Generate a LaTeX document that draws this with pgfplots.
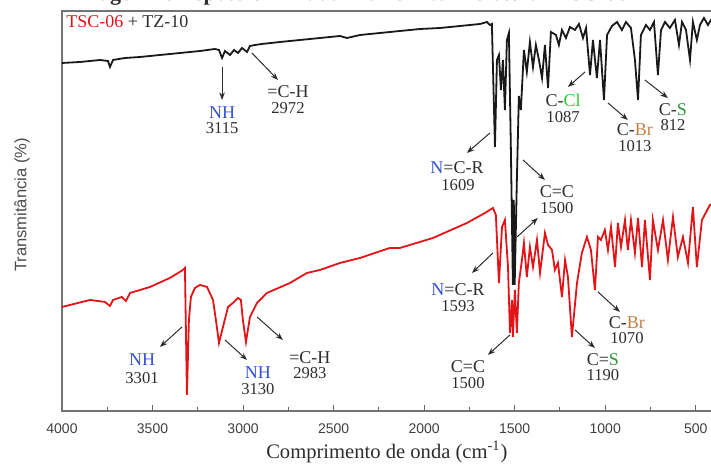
\documentclass[border=0pt]{standalone}
\usepackage{fontspec}
\setmainfont{Liberation Serif}
\setsansfont{Liberation Sans}
\usepackage{pgfplots}
\pgfplotsset{compat=1.18}
\usetikzlibrary{arrows.meta}
\definecolor{specred}{RGB}{226,20,24}
\definecolor{specblk}{RGB}{25,25,25}
\definecolor{lblblue}{RGB}{50,80,210}
\definecolor{lblgreen}{RGB}{40,205,40}
\definecolor{lbldkgreen}{RGB}{50,150,60}
\definecolor{lblbrown}{RGB}{190,130,70}
\definecolor{txt}{RGB}{45,45,45}

\begin{document}
\begin{tikzpicture}[
  ann/.style={-{Stealth[length=3.8pt,width=2.8pt]}, line width=0.5pt, draw=txt},
  lab/.style={font=\fontsize{9}{9}\selectfont, text=txt, inner sep=0pt},
  num/.style={font=\fontsize{8.3}{9}\selectfont, text=txt, inner sep=0pt}]
\begin{axis}[
  scale only axis, width=326.9pt, height=200pt,
  xmin=390, xmax=4000, x dir=reverse, ymin=0, ymax=400,
  xtick={500,1000,...,4000}, minor x tick num=1,
  xtick pos=bottom, tick align=inside, ytick=\empty,
  major tick length=3pt, minor tick length=2pt,
  axis line style={draw=black!55, line width=0.6pt},
  tick style={black!60, line width=0.5pt},
  xticklabel style={font=\sffamily\fontsize{7}{8}\selectfont, text=black!75, yshift=-3pt},
  /pgf/number format/assume math mode=true, /pgf/number format/1000 sep={},
  xlabel={Comprimento de onda (cm\textsuperscript{-1})},
  xlabel style={font=\fontsize{10.3}{12}\selectfont, text=txt,
    at={(axis description cs:0.497,-0.1025)}, anchor=center},
  ylabel={Transmitância (\%)},
  ylabel style={font=\sffamily\fontsize{8.3}{9}\selectfont, text=black!70,
    at={(axis description cs:-0.0612,0.515)}, anchor=center},
]
% TSC-06 (red)
\addplot[specred, line width=0.9pt] coordinates {
(4000,104)(3845,111)(3763,109)(3735,105)(3718,111)(3669,114)(3647,110)(3624,118)
(3514,124)(3404,133)(3332,141)(3321,143)(3310,16)(3299,91)(3288,114)(3266,123)
(3238,126)(3199,124)(3166,111)(3150,91)(3133,68)(3111,84)(3083,104)(3056,108)
(3039,111)(3028,113)(3012,111)(3001,91)(2984,69)(2962,94)(2923,108)(2868,118)
(2741,128)(2647,138)(2575,141)(2465,148)(2354,153)(2272,158)(2189,163)(2134,163)
(1951,173)(1764,188)(1664,198)(1620,203)(1604,196)(1587,128)(1570,184)(1554,191)
(1537,144)(1526,78)(1515,111)(1510,74)(1499,121)(1488,78)(1477,128)(1460,151)
(1449,168)(1433,134)(1416,164)(1399,144)(1377,171)(1360,138)(1333,178)(1316,166)
(1294,161)(1278,141)(1261,148)(1239,114)(1222,151)(1206,134)(1184,74)(1156,128)
(1129,158)(1101,174)(1079,161)(1057,121)(1040,174)(1024,171)(1002,181)(985,161)
(968,184)(946,144)(930,188)(913,164)(891,191)(875,161)(858,191)(836,158)
(819,193)(797,144)(781,191)(753,131)(737,191)(709,161)(681,191)(654,151)
(626,194)(599,154)(571,174)(543,148)(516,204)(494,144)(466,191)(422,206)(394,208)
};
% TZ-10 (black)
\addplot[specblk, line width=0.9pt] coordinates {
(4000,348)(3901,349)(3790,351)(3746,350)(3735,344)(3718,351)(3652,353)(3569,354)
(3459,356)(3348,358)(3238,360)(3155,362)(3133,361)(3116,353)(3100,360)(3072,356)
(3050,361)(3028,358)(3006,363)(2978,359)(2962,365)(2934,366)(2896,367)(2796,369)
(2686,371)(2575,373)(2465,375)(2426,373)(2354,376)(2244,378)(2134,380)(2023,382)
(1913,383)(1802,385)(1692,387)(1653,389)(1637,386)(1626,387)(1609,264)(1598,351)
(1587,356)(1576,321)(1565,351)(1554,301)(1543,371)(1532,378)(1521,261)(1510,126)
(1505,211)(1500,126)(1488,231)(1477,315)(1466,301)(1449,361)(1433,339)(1416,369)
(1399,344)(1383,366)(1366,351)(1349,333)(1333,366)(1316,323)(1300,379)(1272,376)
(1256,366)(1239,381)(1217,373)(1195,384)(1167,381)(1145,387)(1123,373)(1106,383)
(1084,336)(1068,371)(1046,333)(1029,371)(1007,311)(990,376)(963,385)(935,389)
(908,381)(886,389)(858,383)(836,351)(819,311)(803,376)(775,386)(753,381)
(731,389)(709,336)(692,381)(670,389)(643,383)(615,391)(593,366)(576,389)
(554,381)(532,351)(516,389)(494,371)(477,386)(455,393)(433,386)(416,391)(394,391)
};
\node[anchor=west, font=\fontsize{9}{9}\selectfont, inner sep=0pt, text=txt]
  at (axis cs:3978,389) {\textcolor{specred}{TSC-06} + TZ-10};
% black annotations
\draw[ann] (axis cs:3116,344) -- (axis cs:3116,311);
\node[lab,text=lblblue] at (axis cs:3116,298) {NH};
\node[num] at (axis cs:3116,283) {3115};
\draw[ann] (axis cs:2951,358) -- (axis cs:2807,331);
\node[lab] at (axis cs:2752,319) {=C-H};
\node[num] at (axis cs:2752,303) {2972};
\draw[ann] (axis cs:1637,278) -- (axis cs:1764,258);
\node[lab] at (axis cs:1819,243) {\textcolor{lblblue}{N}=C-R};
\node[num] at (axis cs:1813,226) {1609};
\draw[ann] (axis cs:1454,251) -- (axis cs:1333,231);
\node[lab] at (axis cs:1267,219) {C=C};
\node[num] at (axis cs:1267,203) {1500};
\draw[ann] (axis cs:1487,174) -- (axis cs:1372,193);
\draw[ann] (axis cs:1112,339) -- (axis cs:1206,324);
\node[lab] at (axis cs:1233,311) {C-\textcolor{lblgreen}{Cl}};
\node[num] at (axis cs:1233,294) {1087};
\draw[ann] (axis cs:985,308) -- (axis cs:875,291);
\node[lab] at (axis cs:836,281) {C-\textcolor{lblbrown}{Br}};
\node[num] at (axis cs:836,265) {1013};
\draw[ann] (axis cs:781,331) -- (axis cs:654,313);
\node[lab] at (axis cs:626,301) {C-\textcolor{lbldkgreen}{S}};
\node[num] at (axis cs:626,286) {812};
% red annotations
\draw[ann] (axis cs:3337,84) -- (axis cs:3459,64);
\node[lab,text=lblblue] at (axis cs:3558,51) {NH};
\node[num] at (axis cs:3558,33) {3301};
\draw[ann] (axis cs:3100,71) -- (axis cs:2978,51);
\node[lab,text=lblblue] at (axis cs:2918,38) {NH};
\node[num] at (axis cs:2918,22) {3130};
\draw[ann] (axis cs:2923,94) -- (axis cs:2780,71);
\node[lab] at (axis cs:2631,53) {=C-H};
\node[num] at (axis cs:2631,38) {2983};
\draw[ann] (axis cs:1620,158) -- (axis cs:1736,138);
\node[lab] at (axis cs:1813,121) {\textcolor{lblblue}{N}=C-R};
\node[num] at (axis cs:1813,105) {1593};
\draw[ann] (axis cs:1526,76) -- (axis cs:1648,56);
\node[lab] at (axis cs:1758,44) {C=C};
\node[num] at (axis cs:1758,28) {1500};
\draw[ann] (axis cs:1167,81) -- (axis cs:1057,63);
\node[lab] at (axis cs:1013,51) {C=\textcolor{lbldkgreen}{S}};
\node[num] at (axis cs:1013,36) {1190};
\draw[ann] (axis cs:1040,119) -- (axis cs:919,99);
\node[lab] at (axis cs:880,88) {C-\textcolor{lblbrown}{Br}};
\node[num] at (axis cs:880,73) {1070};
\coordinate (bl) at (axis cs:4000,0);
\coordinate (tr) at (axis cs:416,400);
\coordinate (tt) at (axis cs:2410,410);
\end{axis}
\node[anchor=base, font=\bfseries\fontsize{11}{12}\selectfont, text=txt, inner sep=0pt]
  at (tt) {Imagem 1: Espectro Infravermelho intermolecular TSC-06};
\pgfresetboundingbox
\path[use as bounding box] ([xshift=-31pt,yshift=-27.5pt]bl) rectangle ([yshift=5.5pt]tr);
\end{tikzpicture}
\end{document}
